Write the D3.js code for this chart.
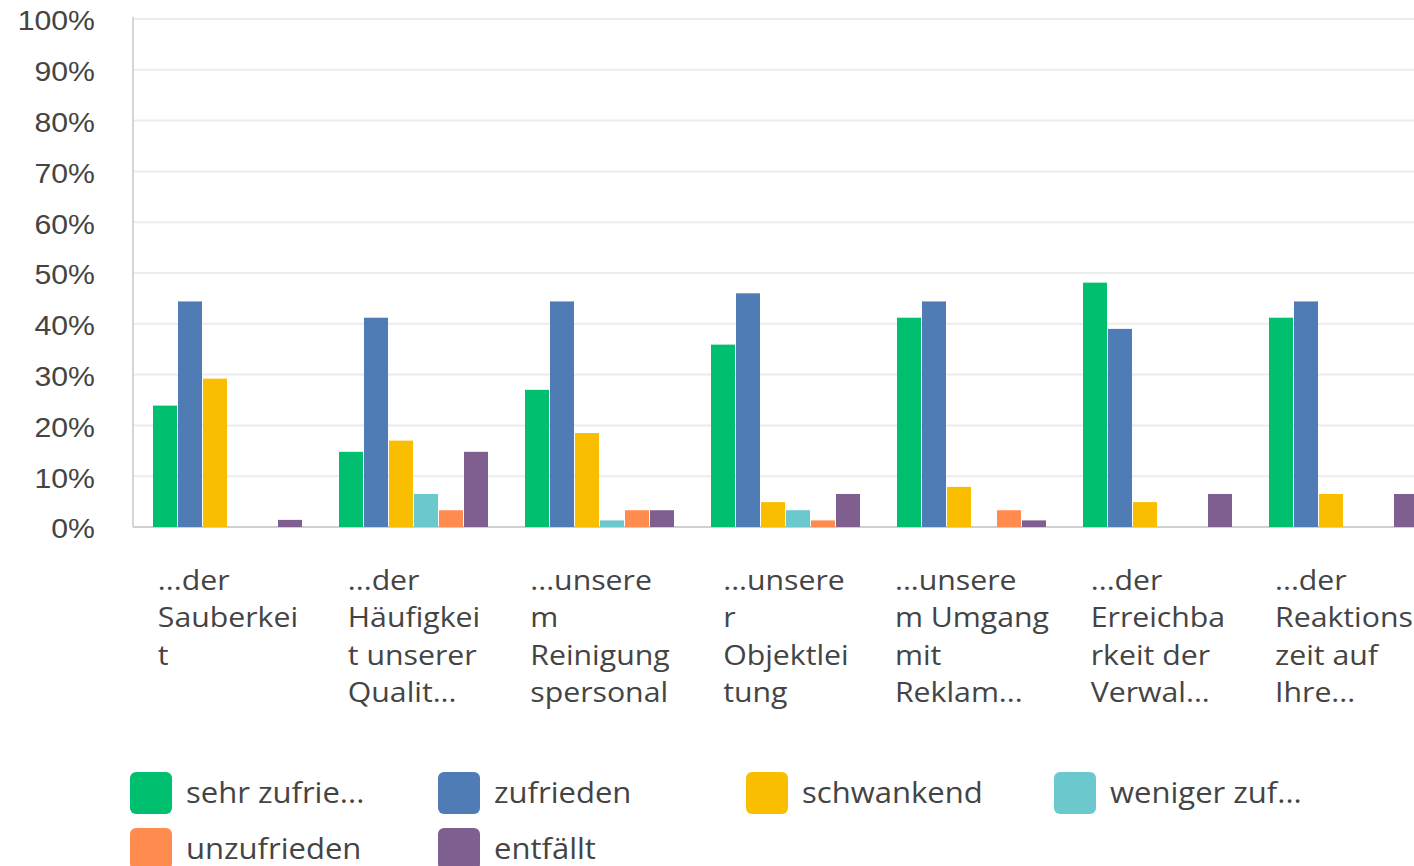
<!DOCTYPE html>
<html>
<head>
<meta charset="utf-8">
<script src="https://cdn.jsdelivr.net/npm/d3@7"></script>
<style>
  html, body { margin: 0; padding: 0; background: #fff; overflow: hidden; }
  svg { display: block; }
</style>
</head>
<body>
<svg id="chart" width="1414" height="866"></svg>
<script>
// ---- data ----
const categories = [
  "...der Sauberkeit",
  "...der Häufigkeit unserer Qualit...",
  "...unserem Reinigungspersonal",
  "...unserer Objektleitung",
  "...unserem Umgang mit Reklam...",
  "...der Erreichbarkeit der Verwal...",
  "...der Reaktionszeit auf Ihre..."
];
const categoryLines = [
  ["...der", "Sauberkei", "t"],
  ["...der", "Häufigkei", "t unserer", "Qualit..."],
  ["...unsere", "m", "Reinigung", "spersonal"],
  ["...unsere", "r", "Objektlei", "tung"],
  ["...unsere", "m Umgang", "mit", "Reklam..."],
  ["...der", "Erreichba", "rkeit der", "Verwal..."],
  ["...der", "Reaktions", "zeit auf", "Ihre..."]
];
const seriesNames = ["sehr zufrie...", "zufrieden", "schwankend", "weniger zuf...", "unzufrieden", "entfällt"];
const seriesColors = ["#00BF6F", "#507CB6", "#F9BE00", "#6BC8CD", "#FF8B4F", "#7F5F90"];
const sehrZufrieden   = [23.9, 14.8, 27.0, 35.9, 41.2, 48.1, 41.2];
const zufrieden       = [44.4, 41.2, 44.4, 46.0, 44.4, 39.0, 44.4];
const schwankend      = [29.2, 17.0, 18.5, 4.9, 7.9, 4.9, 6.5];
const wenigerZufrieden= [0, 6.5, 1.3, 3.3, 0, 0, 0];
const unzufrieden     = [0, 3.3, 3.3, 1.3, 3.3, 0, 0];
const entfaellt       = [1.4, 14.8, 3.3, 6.5, 1.3, 6.5, 6.5];
const seriesValues = [sehrZufrieden, zufrieden, schwankend, wenigerZufrieden, unzufrieden, entfaellt];
const yTicks = [0, 10, 20, 30, 40, 50, 60, 70, 80, 90, 100];

// ---- layout ----
const svg = d3.select("#chart");
const plotLeft = 133, plotRight = 1439, plotTop = 19, plotBottom = 527;
const textColor = "#444";

const x0 = d3.scaleBand().domain(categories).range([plotLeft, plotRight])
  .paddingInner(0.1935).paddingOuter(0.1075);
const x1 = d3.scaleBand().domain(seriesNames).range([0, x0.bandwidth()]).padding(0);
const y = d3.scaleLinear().domain([0, 100]).range([plotBottom, plotTop]);

// gridlines
svg.append("g").selectAll("line").data(yTicks.filter(t => t > 0)).join("line")
  .attr("x1", plotLeft).attr("x2", 1414)
  .attr("y1", d => y(d)).attr("y2", d => y(d))
  .attr("stroke", "#ececec").attr("stroke-width", 2);

// y axis labels
const yAxis = d3.axisLeft(y).tickValues(yTicks).tickFormat(d => d + "%").tickSize(0).tickPadding(0);
const yg = svg.append("g").attr("transform", "translate(95,0)").call(yAxis);
yg.select(".domain").remove();
yg.selectAll("text")
  .attr("font-family", "'Liberation Sans', Arial, sans-serif")
  .attr("font-size", 27).attr("fill", textColor).attr("dy", "0.4em")
  .attr("transform", "scale(1.12,1)");

// axis lines
svg.append("line").attr("x1", plotLeft).attr("x2", plotLeft).attr("y1", plotTop - 2).attr("y2", plotBottom)
  .attr("stroke", "#d6d6d6").attr("stroke-width", 2);
svg.append("line").attr("x1", plotLeft).attr("x2", 1414).attr("y1", plotBottom).attr("y2", plotBottom)
  .attr("stroke", "#d0d0d0").attr("stroke-width", 2);

// bars
const groups = svg.append("g").selectAll("g").data(categories).join("g")
  .attr("transform", d => `translate(${x0(d)},0)`);
groups.selectAll("rect")
  .data((c, ci) => seriesNames.map((s, si) => ({ s, si, v: seriesValues[si][ci] })).filter(d => d.v > 0))
  .join("rect")
  .attr("x", d => x1(d.s))
  .attr("width", x1.bandwidth() - 1)
  .attr("y", d => y(d.v))
  .attr("height", d => plotBottom - y(d.v))
  .attr("fill", d => seriesColors[d.si]);

// category labels
const labelFont = "'Open Sans', 'Noto Sans', sans-serif";
const labelStretch = 1.08;
categories.forEach((c, i) => {
  const g = svg.append("g");
  const t = g.append("text")
    .attr("font-family", labelFont).attr("font-size", 28).attr("fill", textColor);
  categoryLines[i].forEach((line, li) => {
    t.append("tspan").attr("x", 0).attr("y", 590 + li * 37.5).text(line);
  });
  const w = t.node().getBBox().width * labelStretch;
  const cx = x0(c) + x0.bandwidth() / 2;
  g.attr("transform", `translate(${cx - w / 2},0) scale(${labelStretch},1)`);
});

// legend
const legend = svg.append("g");
seriesNames.forEach((s, i) => {
  const col = i % 4, row = Math.floor(i / 4);
  const lx = 130 + col * 308, ly = 772 + row * 56;
  legend.append("rect").attr("x", lx).attr("y", ly).attr("width", 42).attr("height", 42)
    .attr("rx", 6).attr("fill", seriesColors[i]);
  legend.append("text")
    .attr("transform", `translate(${lx + 56},${ly + 21}) scale(1.07,1)`)
    .attr("dy", "0.36em")
    .attr("font-family", labelFont).attr("font-size", 29).attr("fill", textColor).text(s);
});
</script>
</body>
</html>
